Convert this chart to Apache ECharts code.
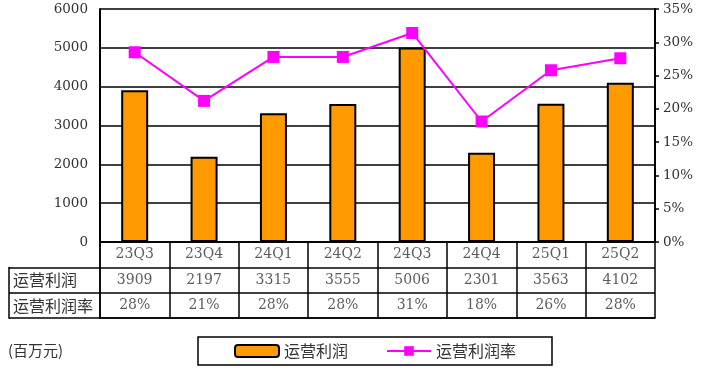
<!DOCTYPE html>
<html><head><meta charset="utf-8">
<script src="https://cdn.jsdelivr.net/npm/echarts@6/dist/echarts.min.js"></script>
<style>html,body{margin:0;padding:0;background:#fff}#c{width:720px;height:375px}</style>
</head><body><div id="c"></div>
<script>
const categories = ['23Q3','23Q4','24Q1','24Q2','24Q3','24Q4','25Q1','25Q2'];
const profit = [3909, 2197, 3315, 3555, 5006, 2301, 3563, 4102];
const rate = [28.5, 21.2, 27.8, 27.8, 31.4, 18.1, 25.8, 27.6];
const rateLabels = ['28%','21%','28%','28%','31%','18%','26%','28%'];
const leftTicks = [0, 6000, 1000];
const rightTicks = [0, 35, 5];
const rowNames = ['运营利润','运营利润率'];
const unitText = '(百万元)';

const serif = 'DejaVu Serif';
const cjk = 'Noto Sans CJK SC';
const tableRows = ['cat','profit','rate'];
const cells = [];
categories.forEach((c,i)=>{
  cells.push([c,'cat',c]);
  cells.push([c,'profit',String(profit[i])]);
  cells.push([c,'rate',rateLabels[i]]);
});

const chart = echarts.init(document.getElementById('c'));
const L = 100, R = 65, T = 9, B0 = 242, rowH = 25.4;
chart.setOption({
  animation:false,
  textStyle:{fontFamily:serif},
  graphic:[{type:'text', left:8, top:343, style:{text:unitText, font:'15px "Noto Sans CJK SC"', fill:'#333'}}],
  legend:{
    left:198, top:337, padding:[6,36,6,36], itemGap:38, itemWidth:44, itemHeight:12,
    borderColor:'#000', borderWidth:1.5,
    textStyle:{fontFamily:cjk, fontSize:16, color:'#333'},
    data:['运营利润','运营利润率']
  },
  grid:[
    {left:L, right:R, top:T, height:B0-T},
    {left:L, right:R, top:B0, height:rowH*3},
    {left:9, width:L-9, top:B0+rowH, height:rowH*2}
  ],
  xAxis:[
    {type:'category', gridIndex:0, data:categories, axisLabel:{show:false}, axisTick:{show:false},
     axisLine:{lineStyle:{color:'#000', width:1.5}}},
    {type:'category', gridIndex:1, data:categories, axisLabel:{show:false}, axisTick:{show:false},
     axisLine:{show:true, lineStyle:{color:'#000', width:1.5}},
     splitLine:{show:true, lineStyle:{color:'#000', width:1.5}}},
    {type:'value', gridIndex:2, show:false}
  ],
  yAxis:[
    {type:'value', gridIndex:0, min:leftTicks[0], max:leftTicks[1], interval:leftTicks[2],
     axisLine:{show:true, lineStyle:{color:'#000', width:2}}, axisTick:{show:false},
     axisLabel:{color:'#333', fontSize:13.5, fontFamily:serif, margin:12, formatter:v=>String(v)},
     splitLine:{lineStyle:{color:'#000', width:1.5}}},
    {type:'value', gridIndex:0, position:'right', min:rightTicks[0], max:rightTicks[1], interval:rightTicks[2],
     axisLine:{show:true, lineStyle:{color:'#000', width:2}},
     axisTick:{show:true, length:4, lineStyle:{color:'#000', width:1.5}},
     axisLabel:{color:'#333', fontSize:13.5, fontFamily:serif, margin:8, formatter:'{value}%'},
     splitLine:{show:false}},
    {type:'category', gridIndex:1, data:tableRows, inverse:true, axisLabel:{show:false}, axisTick:{show:false},
     axisLine:{show:true, lineStyle:{color:'#000', width:1.5}},
     splitLine:{show:true, lineStyle:{color:'#000', width:1.5}}},
    {type:'category', gridIndex:2, data:rowNames, inverse:true, axisTick:{show:false},
     axisLine:{show:true, lineStyle:{color:'#000', width:1.5}},
     axisLabel:{inside:true, margin:4, color:'#333', fontFamily:cjk, fontSize:16},
     splitLine:{show:true, lineStyle:{color:'#000', width:1.5}}}
  ],
  series:[
    {name:'运营利润', type:'bar', xAxisIndex:0, yAxisIndex:0, data:profit, barWidth:27,
     itemStyle:{color:'#FF9900', borderColor:'#000', borderWidth:2}},
    {name:'运营利润率', type:'line', xAxisIndex:0, yAxisIndex:1, data:rate,
     symbol:'rect', symbolSize:12, lineStyle:{color:'#FF00FF', width:2},
     itemStyle:{color:'#FF00FF'}},
    {type:'scatter', xAxisIndex:1, yAxisIndex:2, data:cells, symbolSize:1,
     itemStyle:{color:'rgba(0,0,0,0)'}, silent:true,
     label:{show:true, position:'inside', color:'#333', fontFamily:serif, fontSize:14,
            formatter:p=>p.value[2]}}
  ]
});
</script></body></html>
